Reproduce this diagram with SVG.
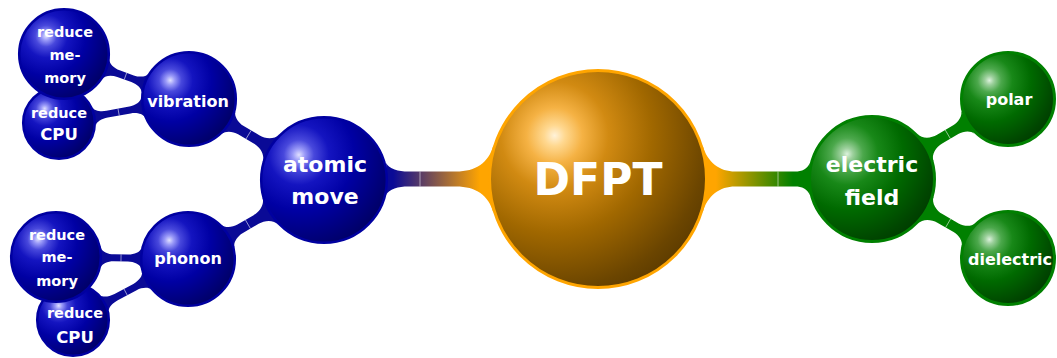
<svg xmlns="http://www.w3.org/2000/svg" width="1057" height="358" viewBox="0 0 1057 358">
<style>
.t{font-family:"DejaVu Sans","Liberation Sans",sans-serif;font-weight:bold;fill:#ffffff;text-anchor:middle}
.seam{stroke:#ffffff;stroke-width:0.7;stroke-opacity:0.75;fill:none}
.cb{fill:#0A0A96}
.cg{fill:#008000}
.nb{fill:url(#ballB);stroke:#0000A0;stroke-width:2.5}
.ng{fill:url(#ballG);stroke:#008000;stroke-width:3}
.no{fill:url(#ballO);stroke:#FFA500;stroke-width:3}
</style>
<defs>
<radialGradient id="ballO" cx="0.3" cy="0.3" r="0.8" fx="0.3" fy="0.3">
<stop offset="0" stop-color="#FFF2D9"/>
<stop offset="0.06" stop-color="#FFD890"/>
<stop offset="0.16" stop-color="#F5B244"/>
<stop offset="0.31" stop-color="#D18A12"/>
<stop offset="0.56" stop-color="#A16800"/>
<stop offset="0.88" stop-color="#6B4500"/>
<stop offset="1" stop-color="#5C3B00"/>
</radialGradient>
<radialGradient id="ballB" cx="0.3" cy="0.3" r="0.8" fx="0.3" fy="0.3">
<stop offset="0" stop-color="#E0E0FF"/>
<stop offset="0.06" stop-color="#9A9AF8"/>
<stop offset="0.15" stop-color="#4848DC"/>
<stop offset="0.3" stop-color="#1414C0"/>
<stop offset="0.55" stop-color="#0000A4"/>
<stop offset="0.85" stop-color="#000078"/>
<stop offset="1" stop-color="#000062"/>
</radialGradient>
<radialGradient id="ballG" cx="0.3" cy="0.3" r="0.8" fx="0.3" fy="0.3">
<stop offset="0" stop-color="#DDF2DD"/>
<stop offset="0.06" stop-color="#9CD09C"/>
<stop offset="0.16" stop-color="#4CA84C"/>
<stop offset="0.31" stop-color="#188818"/>
<stop offset="0.56" stop-color="#006A00"/>
<stop offset="0.88" stop-color="#004600"/>
<stop offset="1" stop-color="#003B00"/>
</radialGradient>
<linearGradient id="gOB" gradientUnits="userSpaceOnUse" x1="118" y1="0" x2="205" y2="0">
<stop offset="0" stop-color="#FFA500"/>
<stop offset="1" stop-color="#0A0A96"/>
</linearGradient>
<linearGradient id="gOG" gradientUnits="userSpaceOnUse" x1="118" y1="0" x2="195" y2="0">
<stop offset="0" stop-color="#FFA500"/>
<stop offset="1" stop-color="#008000"/>
</linearGradient>
</defs>
<rect width="1057" height="358" fill="#ffffff"/>

<g id="connectors">
<!-- level 1 -->
<g transform="translate(598,179) rotate(180)">
<path fill="url(#gOB)" d="M104.5,-34 C109.5,-16 122,-7.5 142,-7.5 L190,-7.5 C199,-7.5 209.5,-10 211.8,-16 L211.8,16 C209.5,10 199,7.5 190,7.5 L142,7.5 C122,7.5 109.5,16 104.5,34 Z"/>
<line class="seam" x1="178" y1="-7.5" x2="178" y2="7.5"/>
</g>
<g transform="translate(598,179)">
<path fill="url(#gOG)" d="M104.5,-34 C109.5,-16 122,-7.5 137,-7.5 L197,-7.5 C204,-7.5 209.5,-10 211.8,-16 L211.8,16 C209.5,10 204,7.5 197,7.5 L137,7.5 C122,7.5 109.5,16 104.5,34 Z"/>
<line class="seam" x1="180" y1="-7.5" x2="180" y2="7.5"/>
</g>
<!-- level 2 -->
<g transform="translate(324,180) rotate(211)">
<path class="cb" d="M61.8,-16 C63.6,-8.7 71.5,-5 78.5,-5 L97.2,-5 C103.2,-5 109.9,-8.4 111.2,-13 L111.2,13 C109.9,8.4 103.2,5 97.2,5 L78.5,5 C71.5,5 63.6,8.7 61.8,16 Z"/>
<line class="seam" x1="88" y1="-5" x2="88" y2="5"/>
</g>
<g transform="translate(324,180) rotate(149.8)">
<path class="cb" d="M61.8,-16 C63.6,-8.7 71.5,-5 78.5,-5 L97.2,-5 C103.2,-5 109.9,-8.4 111.2,-13 L111.2,13 C109.9,8.4 103.2,5 97.2,5 L78.5,5 C71.5,5 63.6,8.7 61.8,16 Z"/>
<line class="seam" x1="88" y1="-5" x2="88" y2="5"/>
</g>
<g transform="translate(872,179) rotate(-30.5)">
<path class="cg" d="M61.8,-16 C63.6,-8.7 71.5,-5 78.5,-5 L97.2,-5 C103.2,-5 109.9,-8.4 111.2,-13 L111.2,13 C109.9,8.4 103.2,5 97.2,5 L78.5,5 C71.5,5 63.6,8.7 61.8,16 Z"/>
<line class="seam" x1="88" y1="-5" x2="88" y2="5"/>
</g>
<g transform="translate(872,179) rotate(30.1)">
<path class="cg" d="M61.8,-16 C63.6,-8.7 71.5,-5 78.5,-5 L97.2,-5 C103.2,-5 109.9,-8.4 111.2,-13 L111.2,13 C109.9,8.4 103.2,5 97.2,5 L78.5,5 C71.5,5 63.6,8.7 61.8,16 Z"/>
<line class="seam" x1="88" y1="-5" x2="88" y2="5"/>
</g>
<!-- level 3 -->
<g transform="translate(189,99) rotate(199.8)">
<path class="cb" d="M46.9,-10 C47.7,-6.2 54,-3.5 60,-3.5 L75,-3.5 C81,-3.5 87.15,-6.2 88,-10 L88,10 C87.15,6.2 81,3.5 75,3.5 L60,3.5 C54,3.5 47.7,6.2 46.9,10 Z"/>
<line class="seam" x1="67.5" y1="-3.5" x2="67.5" y2="3.5"/>
</g>
<g transform="translate(189,99) rotate(169.5)">
<path class="cb" d="M46.9,-10 C47.7,-6.2 54,-3.5 60,-3.5 L83.3,-3.5 C89.3,-3.5 95.5,-5.8 96.3,-9 L96.3,9 C95.5,5.8 89.3,3.5 83.3,3.5 L60,3.5 C54,3.5 47.7,6.2 46.9,10 Z"/>
<line class="seam" x1="71.6" y1="-3.5" x2="71.6" y2="3.5"/>
</g>
<g transform="translate(188,259) rotate(180.9)">
<path class="cb" d="M46.9,-10 C47.7,-6.2 54,-3.5 60,-3.5 L74.1,-3.5 C80.1,-3.5 86.25,-6.2 87.1,-10 L87.1,10 C86.25,6.2 80.1,3.5 74.1,3.5 L60,3.5 C54,3.5 47.7,6.2 46.9,10 Z"/>
<line class="seam" x1="67" y1="-3.5" x2="67" y2="3.5"/>
</g>
<g transform="translate(188,259) rotate(152.1)">
<path class="cb" d="M46.9,-10 C47.7,-6.2 54,-3.5 60,-3.5 L81.3,-3.5 C87.3,-3.5 93.5,-5.8 94.3,-9 L94.3,9 C93.5,5.8 87.3,3.5 81.3,3.5 L60,3.5 C54,3.5 47.7,6.2 46.9,10 Z"/>
<line class="seam" x1="70.6" y1="-3.5" x2="70.6" y2="3.5"/>
</g>
</g>

<g id="dfpt">
<circle class="no" cx="598" cy="179" r="108.5"/>
<text class="t" x="598" y="195" font-size="44">DFPT</text>
</g>

<g id="atomic-move">
<circle class="nb" cx="324" cy="180" r="62.8"/>
<text class="t" x="325" y="172" font-size="22">atomic</text>
<text class="t" x="325" y="204" font-size="22">move</text>
</g>

<g id="electric-field">
<circle class="ng" cx="872" cy="179" r="62.5"/>
<text class="t" x="872" y="172" font-size="22">electric</text>
<text class="t" x="872" y="205" font-size="22">field</text>
</g>

<g id="polar">
<circle class="ng" cx="1008" cy="99" r="46.5"/>
<text class="t" x="1009" y="105" font-size="16">polar</text>
</g>

<g id="dielectric">
<circle class="ng" cx="1008" cy="258" r="46.5"/>
<text class="t" x="1010" y="265" font-size="16">dielectric</text>
</g>

<g id="vibration">
<circle class="nb" cx="189" cy="99" r="46.8"/>
<text class="t" x="188" y="107" font-size="16">vibration</text>
</g>

<g id="phonon">
<circle class="nb" cx="188" cy="259" r="46.8"/>
<text class="t" x="188" y="264" font-size="16">phonon</text>
</g>

<g id="vib-reduce-cpu">
<circle class="nb" cx="59" cy="123" r="35.8"/>
<text class="t" x="59" y="118" font-size="14.5">reduce</text>
<text class="t" x="59" y="140" font-size="16.5">CPU</text>
</g>

<g id="vib-reduce-memory">
<circle class="nb" cx="64" cy="54" r="44.8"/>
<text class="t" x="65" y="37" font-size="14.5">reduce</text>
<text class="t" x="65" y="60" font-size="14.5">me-</text>
<text class="t" x="65" y="83" font-size="14.5">mory</text>
</g>

<g id="pho-reduce-cpu">
<circle class="nb" cx="73" cy="320" r="35.8"/>
<text class="t" x="75" y="318" font-size="14.5">reduce</text>
<text class="t" x="75" y="343" font-size="16.5">CPU</text>
</g>

<g id="pho-reduce-memory">
<circle class="nb" cx="56" cy="257" r="44.8"/>
<text class="t" x="57" y="240" font-size="14.5">reduce</text>
<text class="t" x="57" y="262" font-size="14.5">me-</text>
<text class="t" x="57" y="286" font-size="14.5">mory</text>
</g>
</svg>
